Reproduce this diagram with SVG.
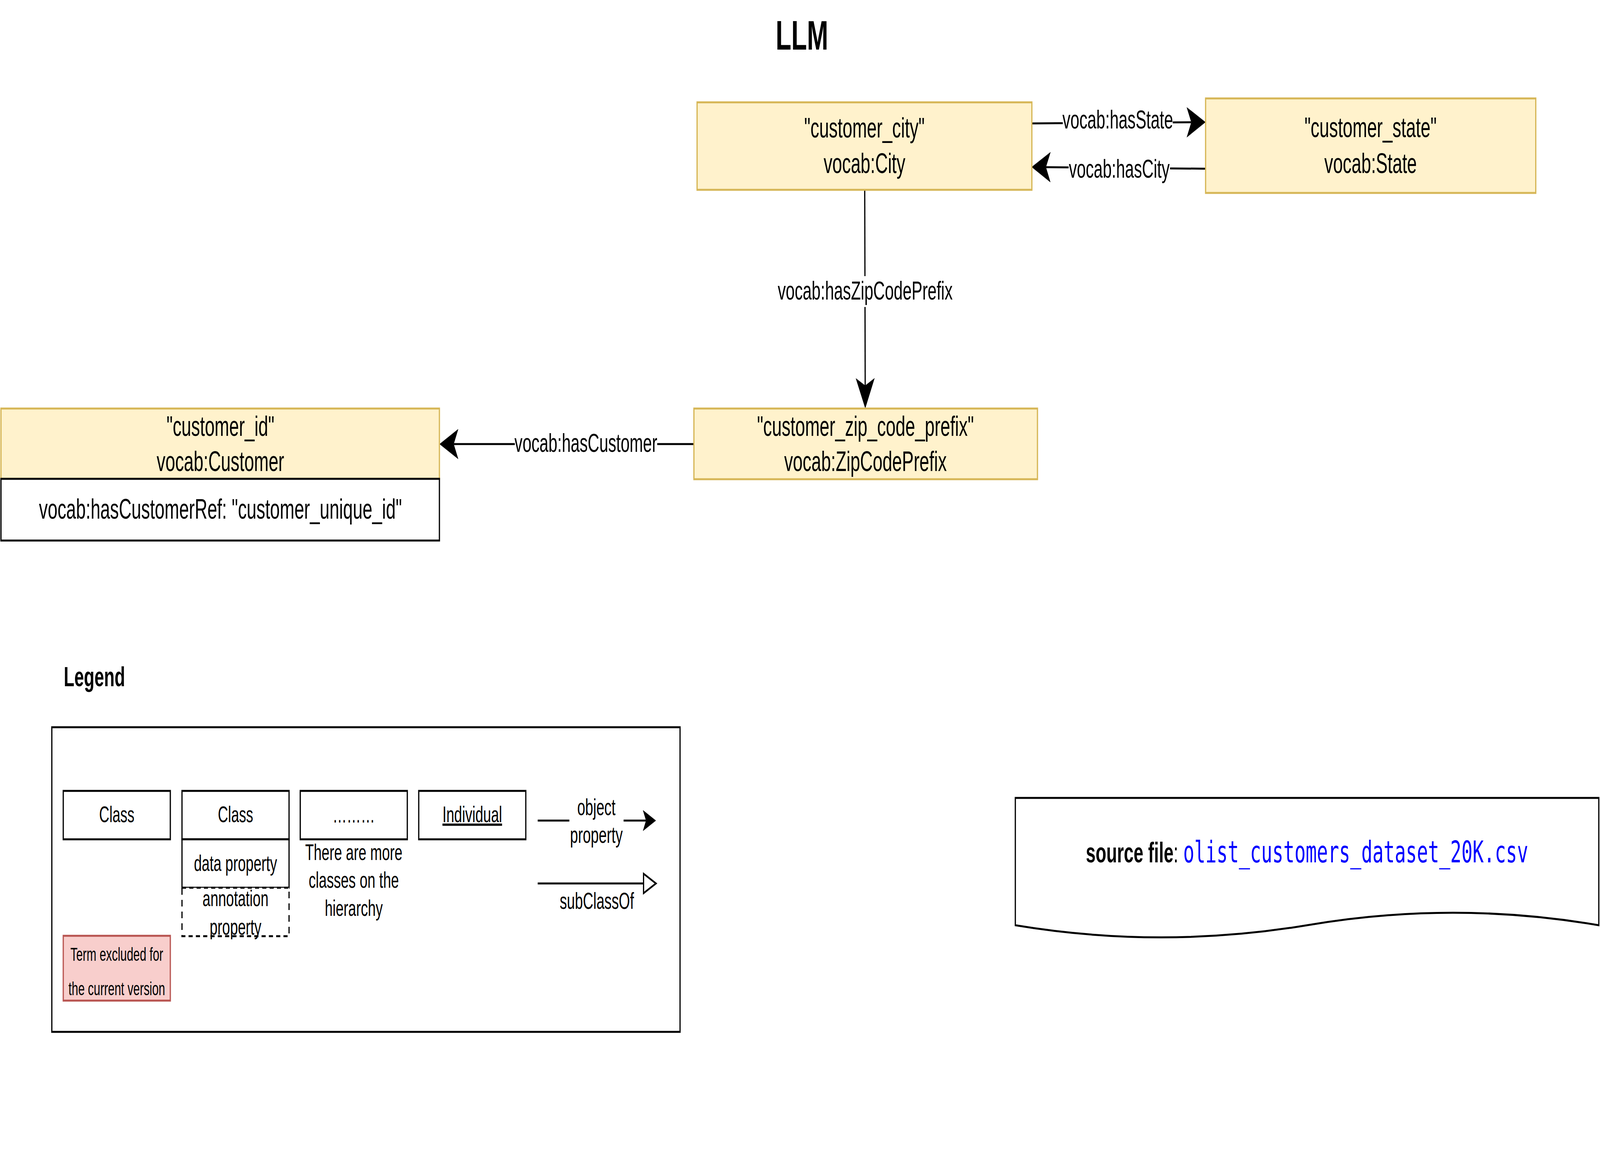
<svg xmlns="http://www.w3.org/2000/svg" width="6576" height="2988" viewBox="0 0 6576 2988" preserveAspectRatio="none">
<style>
svg{width:100vw;height:100vh;display:block}
text{font-family:"Liberation Sans",Arial,sans-serif;fill:#000}
.node{fill:#fff2cc;stroke:#d6b656;stroke-width:5}
.attr{fill:#fff;stroke:#000;stroke-width:5}
.nt{font-size:72px;text-anchor:middle}
.el{font-size:66px;text-anchor:middle}
.lg{font-size:58px;text-anchor:middle}
.edge{fill:none;stroke:#000;stroke-width:5}
.bg{fill:#fff}
.box{fill:#fff;stroke:#000;stroke-width:5}
</style>
<defs>
<marker id="arr" markerUnits="userSpaceOnUse" viewBox="0 0 78 78" markerWidth="78" markerHeight="78" refX="19" refY="39" orient="auto">
<path d="M78,39 L0,0 L19,39 L0,78 Z" fill="#000"/>
</marker>
<marker id="arrS" markerUnits="userSpaceOnUse" viewBox="0 0 54 54" markerWidth="54" markerHeight="54" refX="13" refY="27" orient="auto">
<path d="M54,27 L0,0 L13,27 L0,54 Z" fill="#000"/>
</marker>
<marker id="tri" markerUnits="userSpaceOnUse" viewBox="-4 -4 60 58" markerWidth="60" markerHeight="58" refX="0" refY="25" orient="auto" overflow="visible">
<path d="M0,0 L51,25 L0,50 Z" fill="#fff" stroke="#000" stroke-width="5"/>
</marker>
</defs>
<rect width="6576" height="2988" fill="#fff"/>

<g id="title">
<text x="3296" y="127" style="font-size:105px;font-weight:bold;text-anchor:middle">LLM</text>
</g>

<g id="connectors">
<path class="edge" d="M4242,316 L4896,313" marker-end="url(#arr)"/>
<path class="edge" d="M4955,432 L4299,428" marker-end="url(#arr)"/>
<path class="edge" d="M3554,487 L3556,987" marker-end="url(#arr)"/>
<path class="edge" d="M2853,1137 L1865,1137" marker-end="url(#arr)"/>
<rect class="bg" x="4368" y="278" width="452" height="70"/>
<text class="el" x="4594" y="329">vocab:hasState</text>
<rect class="bg" x="4392" y="400" width="417" height="72"/>
<text class="el" x="4600" y="455">vocab:hasCity</text>
<rect class="bg" x="3194" y="707" width="724" height="79"/>
<text class="el" x="3556" y="767">vocab:hasZipCodePrefix</text>
<rect class="bg" x="2116" y="1100" width="585" height="75"/>
<text class="el" x="2408" y="1157">vocab:hasCustomer</text>
</g>

<g id="node-city">
<rect class="node" x="2865" y="262" width="1376" height="224"/>
<text class="nt" x="3553" y="352">"customer_city"</text>
<text class="nt" x="3553" y="443">vocab:City</text>
</g>
<g id="node-state">
<rect class="node" x="4955" y="252" width="1357" height="242"/>
<text class="nt" x="5633" y="351">"customer_state"</text>
<text class="nt" x="5633" y="443">vocab:State</text>
</g>
<g id="node-zip">
<rect class="node" x="2852" y="1046" width="1412" height="181"/>
<text class="nt" x="3557" y="1116">"customer_zip_code_prefix"</text>
<text class="nt" x="3557" y="1206">vocab:ZipCodePrefix</text>
</g>
<g id="node-customer">
<rect class="node" x="4" y="1046" width="1802" height="180"/>
<text class="nt" x="906" y="1116">"customer_id"</text>
<text class="nt" x="906" y="1206">vocab:Customer</text>
<rect class="attr" x="4" y="1226" width="1802" height="158"/>
<text class="nt" x="906" y="1328">vocab:hasCustomerRef: "customer_unique_id"</text>
</g>

<g id="legend">
<text x="262" y="1757" style="font-size:71px;font-weight:bold">Legend</text>
<rect class="box" x="213" y="1862" width="2582" height="780"/>
<g id="legend-class">
<rect class="box" x="260" y="2025" width="440" height="124"/>
<text class="lg" x="480" y="2105">Class</text>
</g>
<g id="legend-class-props">
<rect class="box" x="748" y="2025" width="440" height="124"/>
<text class="lg" x="968" y="2105">Class</text>
<rect class="box" x="748" y="2149" width="440" height="124"/>
<text class="lg" x="968" y="2230">data property</text>
<rect x="748" y="2273" width="440" height="124" fill="#fff" stroke="#000" stroke-width="5" stroke-dasharray="17 13"/>
<text class="lg" x="968" y="2320">annotation</text>
<text class="lg" x="968" y="2393">property</text>
</g>
<g id="legend-more">
<rect class="box" x="1234" y="2025" width="440" height="124"/>
<text class="lg" x="1454" y="2106">………</text>
<text class="lg" x="1454" y="2202">There are more</text>
<text class="lg" x="1454" y="2273">classes on the</text>
<text class="lg" x="1454" y="2345">hierarchy</text>
</g>
<g id="legend-individual">
<rect class="box" x="1721" y="2025" width="440" height="124"/>
<text class="lg" x="1941" y="2105" text-decoration="underline">Individual</text>
</g>
<g id="legend-excluded">
<rect x="260" y="2396" width="440" height="166" fill="#f8cecc" stroke="#b85450" stroke-width="5"/>
<text x="480" y="2460" style="font-size:48px;text-anchor:middle">Term excluded for</text>
<text x="480" y="2548" style="font-size:48px;text-anchor:middle">the current version</text>
</g>
<g id="legend-edges">
<path class="edge" d="M2210,2101 L2655,2101" marker-end="url(#arrS)"/>
<rect class="bg" x="2340" y="2035" width="223" height="140"/>
<text x="2451" y="2087" style="font-size:59px;text-anchor:middle">object</text>
<text x="2451" y="2158" style="font-size:59px;text-anchor:middle">property</text>
<path class="edge" d="M2210,2262 L2645,2262" marker-end="url(#tri)"/>
<text x="2453" y="2327" style="font-size:59px;text-anchor:middle">subClassOf</text>
</g>
</g>

<g id="source-file">
<path d="M4173,2043 L6571,2043 L6571,2369 Q5972,2305 5372,2369 Q4773,2431 4173,2369 Z" fill="#fff" stroke="#000" stroke-width="5"/>
<text x="5372" y="2208" style="text-anchor:middle;font-size:72px"><tspan font-weight="bold">source file</tspan>: <tspan style="font-family:'DejaVu Sans Mono',monospace;font-size:76px;fill:#0000ff">olist_customers_dataset_20K.csv</tspan></text>
</g>
</svg>
